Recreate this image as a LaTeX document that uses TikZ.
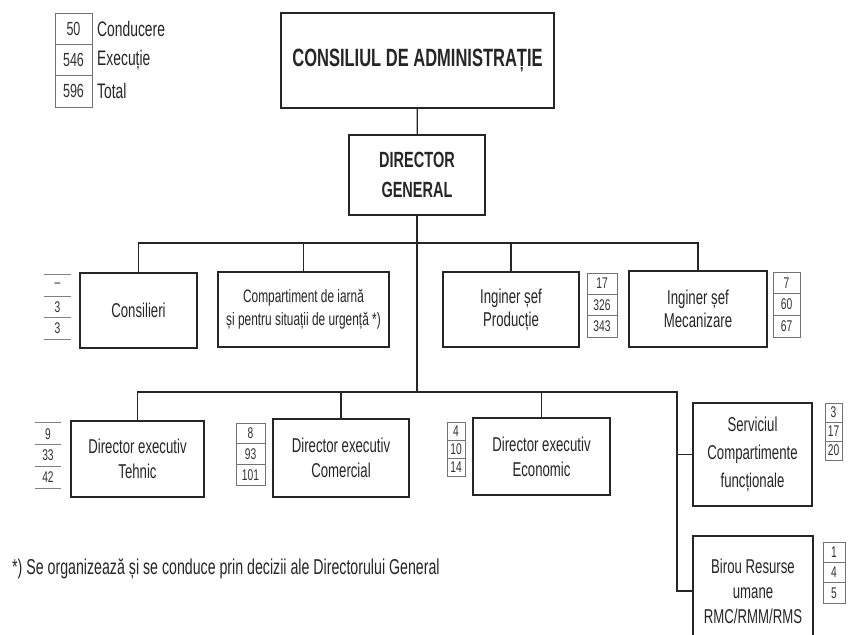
\documentclass[tikz,border=0pt]{standalone}
\usepackage{fontspec}
\setmainfont{Liberation Sans}[FakeStretch=0.66]
\newcommand\fsz[2]{\fontsize{#1}{#2}\selectfont}
\newcommand\numcol[7]{%
  \foreach \v [count=\i] in {#6} {%
    \node[#7, minimum width={#3-#2}, minimum height={#5}] (#1\i) at ({(#2+#3)/2},{#4+(\i-0.5)*#5}) {\v};
  }}
\tikzset{
  box/.style={draw=black!85, line width=1.5pt, align=center, inner sep=0pt, text=black!85, font=\fsz{20}{25}},
  link/.style={draw=black!85, line width=1.3pt, line join=miter},
  cell/.style={draw=black!55, line width=0.7pt, inner sep=0pt, text=black!80, font=\fsz{15.5}{15.5}},
  bare/.style={inner sep=0pt, text=black!80, font=\fsz{15.5}{15.5}},
  rulel/.style={draw=black!50, line width=0.7pt},
  lab/.style={inner sep=0pt, text=black!85, font=\fsz{21}{21}},
}
\begin{document}
\begin{tikzpicture}[x=1pt,y=-1pt]
\clip (0,0) rectangle (848,634);
\fill[white] (0,0) rectangle (848,634);

% main boxes
\node[box, minimum width=273, minimum height=95, font=\fsz{25}{28}\bfseries] (ca) at (417.5,60.5) {CONSILIUL DE ADMINISTRAȚIE};
\node[box, minimum width=136, minimum height=80, font=\fsz{22}{30}\bfseries] (dg) at (417,175) {DIRECTOR\\GENERAL};
\node[box, minimum width=117, minimum height=75] (cons) at (138.5,310.5) {Consilieri};
\node[box, minimum width=171, minimum height=75, font=\fsz{18}{23}] (comp) at (303.5,309.5) {Compartiment de iarnă\\și pentru situații de urgență *)};
\node[box, minimum width=136, minimum height=75, font=\fsz{20}{23}] (prod) at (511,309.5) {Inginer șef\\Producție};
\node[box, minimum width=138, minimum height=76, font=\fsz{20}{23}] (mec) at (698,309) {Inginer șef\\Mecanizare};
\node[box, minimum width=133, minimum height=76] (teh) at (137.5,459) {Director executiv\\Tehnic};
\node[box, minimum width=136, minimum height=78] (com) at (341,458) {Director executiv\\Comercial};
\node[box, minimum width=137, minimum height=77] (eco) at (541.5,456.5) {Director executiv\\Economic};
\node[box, minimum width=119, minimum height=103, font=\fsz{20}{28}] (serv) at (752.5,454.5) {Serviciul\\Compartimente\\funcționale};
\node[box, minimum width=120, minimum height=110] (bir) at (753,591) {Birou Resurse\\umane\\RMC/RMM/RMS};

% connectors
\coordinate (tb) at (417,243);
\coordinate (lb) at (417,392);
\coordinate (rc) at (677,392);
\draw[link] (ca) -- (dg);
\draw[link] (dg) -- (lb);
\draw[link] (cons.north) |- (tb) -| (mec.north);
\draw[link] (comp.north) -- (comp.north |- tb);
\draw[link] (prod.north) -- (prod.north |- tb);
\draw[link] (teh.north) |- (rc) |- (bir.west);
\draw[link] (com.north) -- (com.north |- lb);
\draw[link] (eco.north) -- (eco.north |- lb);
\draw[link] (serv.west) -- (serv.west -| rc);

% number columns
\numcol{nleg}{55}{92}{13}{31.3}{50,546,596}{cell, font=\fsz{19}{19}}
\numcol{ncons}{44}{71}{275}{21.3}{–,3,3}{bare}
\numcol{nprod}{587}{617}{273}{21.3}{17,326,343}{cell}
\numcol{nmec}{773}{800}{272}{21.7}{7,60,67}{cell}
\numcol{nteh}{35}{61}{423}{21.7}{9,33,42}{bare}
\numcol{ncom}{236}{265}{423}{20.7}{8,93,101}{cell}
\numcol{neco}{447}{465}{422}{18}{4,10,14}{cell}
\numcol{nserv}{825}{842}{403}{19}{3,17,20}{cell}
\numcol{nbir}{823}{845}{542}{20.3}{1,4,5}{cell}
\foreach \i in {1,2,3} {
  \draw[rulel] (ncons\i.north west) -- (ncons\i.north east);
  \draw[rulel] (nteh\i.north west) -- (nteh\i.north east);
}
\draw[rulel] (ncons3.south west) -- (ncons3.south east);
\draw[rulel] (nteh3.south west) -- (nteh3.south east);

% legend labels
\node[lab, anchor=west] (lc) at (97,28.6) {Conducere};
\node[lab, anchor=west] (le) at (97,60) {Execuție};
\node[lab, anchor=west] (lt) at (97,91) {Total};

% footnote
\node[lab, anchor=west, font=\fsz{21.5}{21.5}] (fn) at (12,569) {*) Se organizează și se conduce prin decizii ale Directorului General};
\end{tikzpicture}
\end{document}
